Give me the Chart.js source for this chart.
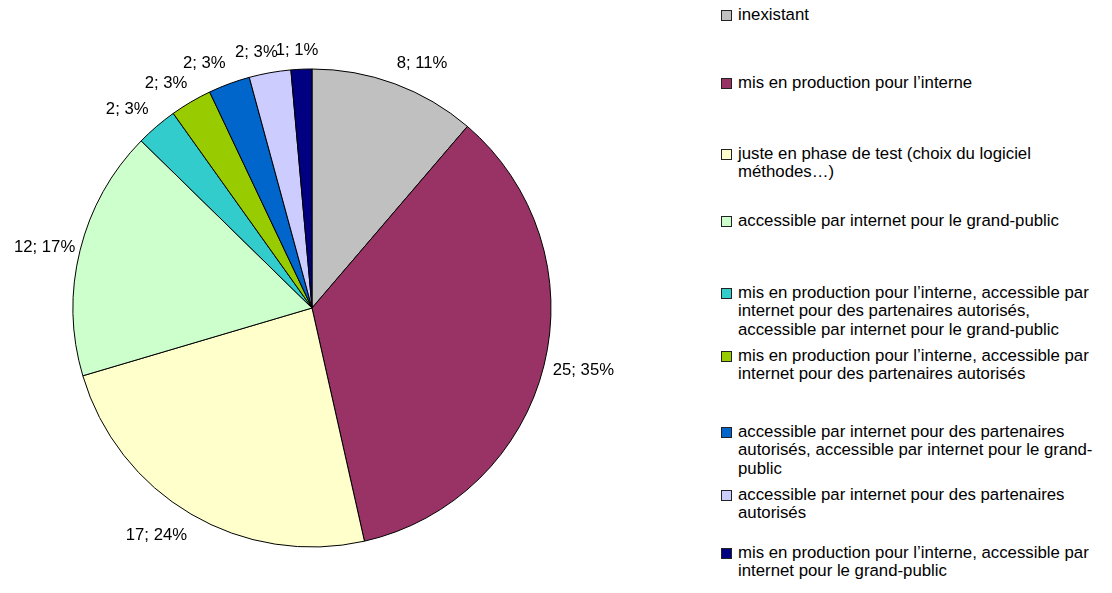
<!DOCTYPE html>
<html>
<head>
<meta charset="utf-8">
<script src="https://cdn.jsdelivr.net/npm/chart.js@4.4.1/dist/chart.umd.min.js"></script>
<style>
  html, body { margin: 0; padding: 0; background: #fff; }
  body { width: 1112px; height: 593px; position: relative; overflow: hidden; font-family: "Liberation Sans", Arial, sans-serif; }
  #wrap { position: absolute; left: 0; top: 0; width: 624px; height: 616px; }
  #legend { position: absolute; left: 0; top: 0; }
  .item { position: absolute; left: 721px; width: 380px; font-size: 16.8px; line-height: 18.5px; color: #000; }
  .item .box { position: absolute; left: 0; top: 4px; width: 9px; height: 9px; border: 1px solid #222; }
  .item .txt { margin-left: 17px; width: 360px; }
</style>
</head>
<body>
<div id="wrap"><canvas id="chart"></canvas></div>
<div id="legend"></div>
<script>
const categories = [
  'inexistant',
  'mis en production pour l\u2019interne',
  'juste en phase de test (choix du logiciel méthodes\u2026)',
  'accessible par internet pour le grand-public',
  'mis en production pour l\u2019interne, accessible par internet pour des partenaires autorisés, accessible par internet pour le grand-public',
  'mis en production pour l\u2019interne, accessible par internet pour des partenaires autorisés',
  'accessible par internet pour des partenaires autorisés, accessible par internet pour le grand-public',
  'accessible par internet pour des partenaires autorisés',
  'mis en production pour l\u2019interne, accessible par internet pour le grand-public'
];
const counts = [8, 25, 17, 12, 2, 2, 2, 2, 1];
const colors = ['#C0C0C0', '#993366', '#FFFFCC', '#CCFFCC', '#33CCCC', '#99CC00', '#0066CC', '#CCCCFF', '#000080'];

// legend layout (first line centre of each entry)
const legendY = [15, 83, 154, 221, 293, 356, 432, 495, 553];
// small hand nudges of the outside labels, like the original file
const labelNudge = [[15, -4], [0, 0], [-14, 6], [4, 1], [-9, -3], [-9, -3], [-14, -4], [-8, -3], [-3, -1]];

const total = counts.reduce((a, b) => a + b, 0);

// "n; p%" labels outside the slices
const outsideLabels = {
  id: 'outsideLabels',
  afterDatasetsDraw(chart) {
    const ctx = chart.ctx;
    const meta = chart.getDatasetMeta(0);
    ctx.save();
    ctx.font = '16.7px "Liberation Sans", Arial, sans-serif';
    ctx.fillStyle = '#000';
    ctx.textAlign = 'center';
    ctx.textBaseline = 'middle';
    meta.data.forEach((arc, i) => {
      const p = arc.getProps(['x', 'y', 'startAngle', 'endAngle', 'outerRadius'], true);
      const mid = (p.startAngle + p.endAngle) / 2;
      const c = Math.cos(mid), s = Math.sin(mid);
      const txt = counts[i] + '; ' + Math.round(counts[i] / total * 100) + '%';
      const w = ctx.measureText(txt).width;
      const d = p.outerRadius + 10;
      const x = p.x + c * d + c * w / 2 + labelNudge[i][0];
      const y = p.y + s * d + s * 8 + labelNudge[i][1];
      ctx.fillText(txt, x, y);
    });
    ctx.restore();
  }
};

new Chart(document.getElementById('chart'), {
  type: 'pie',
  data: {
    labels: categories,
    datasets: [{
      data: counts,
      backgroundColor: colors,
      borderColor: '#000',
      borderWidth: 1
    }]
  },
  options: {
    responsive: true,
    maintainAspectRatio: false,
    animation: false,
    radius: 239,
    layout: { padding: 0 },
    plugins: {
      legend: { display: false },
      tooltip: { enabled: false }
    }
  },
  plugins: [outsideLabels]
});

// legend
const lg = document.getElementById('legend');
categories.forEach((c, i) => {
  const el = document.createElement('div');
  el.className = 'item';
  el.style.top = (legendY[i] - 9.25) + 'px';
  el.innerHTML = '<span class="box" style="background:' + colors[i] + '"></span><div class="txt"></div>';
  el.querySelector('.txt').textContent = c;
  lg.appendChild(el);
});
</script>
</body>
</html>
